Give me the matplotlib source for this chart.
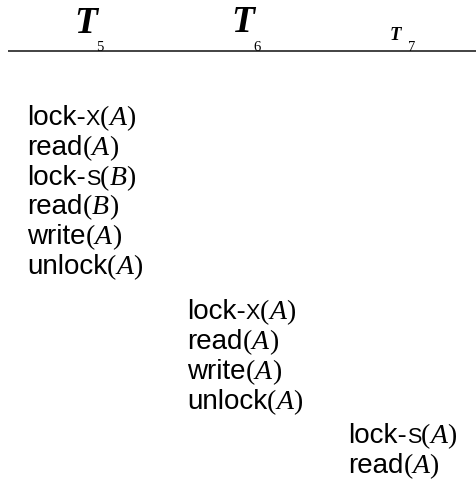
import matplotlib
matplotlib.use("Agg")
import matplotlib.pyplot as plt

# header: transaction name + subscript
tx_names = ["T", "T", "T"]
tx_subs = ["5", "6", "7"]

# schedule, one list per transaction
t5_ops = ["lock-X(A)", "read(A)", "lock-S(B)", "read(B)", "write(A)", "unlock(A)"]
t6_ops = ["lock-X(A)", "read(A)", "write(A)", "unlock(A)"]
t7_ops = ["lock-S(A)", "read(A)"]

W, H = 476, 484
fig = plt.figure(figsize=(W / 100, H / 100), dpi=100)
ax = fig.add_axes([0, 0, 1, 1])
ax.set_xlim(0, W)
ax.set_ylim(H, 0)
ax.axis("off")

renderer = fig.canvas.get_renderer()

SANS = "Liberation Sans"
SERIF = "Liberation Serif"
BODY = 20
SMALL = 15.5


def piece(x, y, s, **kw):
    t = ax.text(x, y, s, va="baseline", ha="left", color="black", **kw)
    bb = t.get_window_extent(renderer=renderer)
    return bb.x1


def draw_op(x, y, op):
    name, item = op[:-1].split("(")
    if name.startswith("lock-"):
        x = piece(x, y, "lock-", family=SANS, fontsize=BODY)
        x = piece(x, y, name[5:], family=SANS, fontsize=SMALL)
    else:
        x = piece(x, y, name, family=SANS, fontsize=BODY)
    x = piece(x, y, "(", family=SERIF, fontsize=BODY)
    x = piece(x, y, item, family=SERIF, fontsize=BODY, style="italic")
    piece(x, y, ")", family=SERIF, fontsize=BODY)


# header line and titles
ax.plot([8, W], [51, 51], color="#222222", lw=1.2, solid_capstyle="butt")
head_x = [74, 231, 390]
head_size = [27, 27, 13.5]
head_base = [33, 32, 40]
sub_x = [96, 253, 408]
for nm, sb, hx, hs, hb, sx in zip(tx_names, tx_subs, head_x, head_size, head_base, sub_x):
    ax.text(hx, hb, nm, family=SERIF, style="italic", fontweight="bold",
            fontsize=hs, va="baseline", ha="left")
    ax.text(sx, 51, sb, family=SERIF, fontsize=10.5,
            va="baseline", ha="left")

# schedule body
col_x = [27, 187, 348]
base_y = [125, 155, 185, 214, 244, 274, 319, 349, 379, 409, 443, 473]
k = 0
for cx, ops in zip(col_x, [t5_ops, t6_ops, t7_ops]):
    for op in ops:
        draw_op(cx, base_y[k], op)
        k += 1

fig.savefig("out.png", dpi=100)
